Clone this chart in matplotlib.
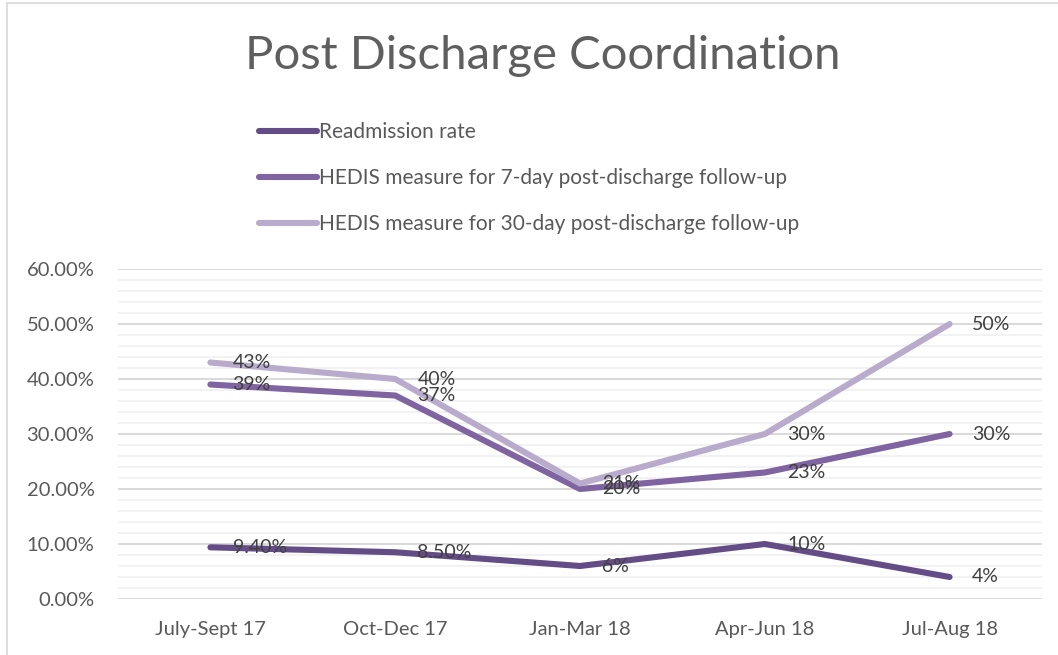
import matplotlib
matplotlib.use('Agg')

import matplotlib.pyplot as plt
import matplotlib.ticker as mticker
from matplotlib.patches import Rectangle

plt.rcParams['font.family'] = ['Lato', 'DejaVu Sans']

periods = ['July-Sept 17', 'Oct-Dec 17', 'Jan-Mar 18', 'Apr-Jun 18', 'Jul-Aug 18']
readmission = [9.4, 8.5, 6, 10, 4]
followup_7 = [39, 37, 20, 23, 30]
followup_30 = [43, 40, 21, 30, 50]
readmission_labels = ['9.40%', '8.50%', '6%', '10%', '4%']
followup_7_labels = ['39%', '37%', '20%', '23%', '30%']
followup_30_labels = ['43%', '40%', '21%', '30%', '50%']

series = [
    ('Readmission rate', readmission, readmission_labels, '#644D86'),
    ('HEDIS measure for 7-day post-discharge follow-up', followup_7, followup_7_labels, '#8064A2'),
    ('HEDIS measure for 30-day post-discharge follow-up', followup_30, followup_30_labels, '#B8ABCC'),
]

W, H = 1058, 655
fig = plt.figure(figsize=(W / 100, H / 100), dpi=100)
fig.patch.set_facecolor('white')

# chart frame (runs off the right and bottom edges like the screenshot)
fig.patches.append(Rectangle((7 / W, -0.05), 1.1, 1 - 3 / H + 0.05,
                             transform=fig.transFigure, fill=False,
                             edgecolor='#D9D9D9', linewidth=1.2))

ax = fig.add_axes([118 / W, 1 - 599 / H, (1042 - 118) / W, (599 - 269) / H])
x = list(range(len(periods)))

for name, vals, labels, color in series:
    ax.plot(x, vals, color=color, linewidth=4.4, label=name,
            solid_capstyle='round', solid_joinstyle='round', zorder=3)

for name, vals, labels, color in series:
    for xi, v, lab in zip(x, vals, labels):
        ax.annotate(lab, (xi, v), xytext=(16, 0), textcoords='offset points',
                    ha='left', va='center', fontsize=14, color='#404040', zorder=4)

ax.set_xlim(-0.5, len(periods) - 0.5)
ax.set_ylim(0, 60)
ax.yaxis.set_major_locator(mticker.MultipleLocator(10))
ax.yaxis.set_minor_locator(mticker.MultipleLocator(2))
ax.yaxis.set_major_formatter(mticker.FuncFormatter(lambda v, p: f'{v:.2f}%'))
ax.grid(True, which='major', axis='y', color='#D9D9D9', linewidth=1.4, zorder=0)
ax.grid(True, which='minor', axis='y', color='#F2F2F2', linewidth=1.4, zorder=0)
ax.xaxis.grid(False)
ax.set_axisbelow(True)

ax.set_xticks(x)
ax.set_xticklabels(periods)
for s in ax.spines.values():
    s.set_visible(False)
ax.tick_params(axis='both', which='both', length=0, labelsize=14.5, colors='#595959')
ax.tick_params(axis='y', pad=17)
ax.tick_params(axis='x', pad=16)

fig.text(543 / W, 1 - 56 / H, 'Post Discharge Coordination', ha='center', va='center',
         fontsize=34, color='#5F5F5F', fontweight='normal')

fig.legend(loc='upper left', bbox_to_anchor=(259 / W, 1 - 122 / H), frameon=False,
           fontsize=15, handlelength=2.8, handletextpad=0.1, labelspacing=1.25,
           borderpad=0, borderaxespad=0, labelcolor='#595959')

fig.savefig('out.png', dpi=100, facecolor='white')
